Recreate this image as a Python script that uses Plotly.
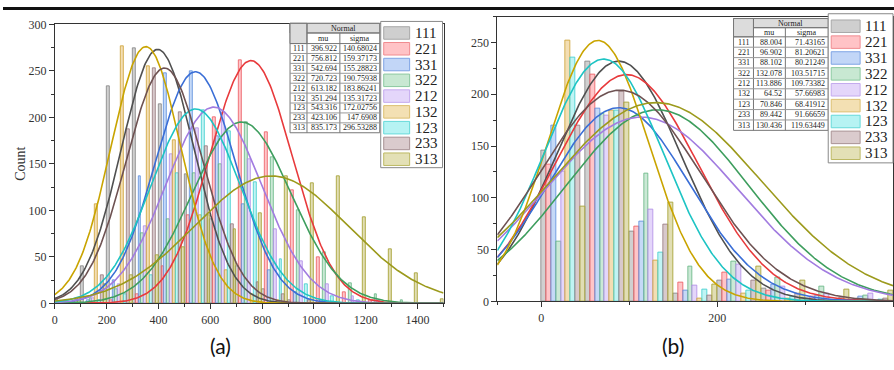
import numpy as np
import plotly.graph_objects as go

W, H = 894, 370

series = ["111", "221", "331", "322", "212", "132", "123", "233", "313"]

# ---------- panel (a) data ----------
mu_a_txt = ["396.922", "756.812", "542.694", "720.723", "613.182", "351.294", "543.316", "423.106", "835.173"]
sigma_a_txt = ["140.68024", "159.37173", "155.28823", "190.75938", "183.86241", "135.31723", "172.02756", "147.6908", "296.53288"]
peak_a = [273, 261, 249, 195, 211, 276, 209, 253, 137]
bins_a = [0, 100, 200, 300, 400, 500, 600, 700, 800, 900, 1000, 1100, 1200, 1300, 1400]
counts_a = {
    "111": [5, 40, 233, 274, 214, 139, 90, 40, 15, 3, 0, 0, 0, 0, 0],
    "221": [0, 0, 3, 10, 40, 95, 200, 261, 184, 122, 50, 12, 3, 0, 0],
    "331": [0, 3, 25, 137, 247, 250, 180, 107, 36, 12, 3, 0, 0, 0, 0],
    "322": [0, 5, 15, 75, 90, 140, 150, 195, 157, 100, 55, 22, 10, 3, 0],
    "212": [0, 5, 20, 83, 160, 188, 205, 155, 80, 45, 20, 8, 3, 0, 0],
    "132": [0, 107, 276, 255, 175, 95, 35, 10, 3, 0, 0, 0, 0, 0, 0],
    "123": [0, 3, 10, 30, 140, 208, 185, 130, 47, 20, 8, 3, 0, 0, 0],
    "233": [3, 30, 187, 253, 205, 169, 85, 23, 10, 3, 0, 0, 0, 0, 0],
    "313": [5, 20, 30, 52, 60, 95, 80, 97, 137, 129, 137, 92, 58, 32, 4],
}

# ---------- panel (b) data ----------
mu_b_txt = ["88.004", "96.902", "88.102", "132.078", "113.886", "64.52", "70.846", "89.442", "130.436"]
sigma_b_txt = ["71.43165", "81.20621", "80.21249", "103.51715", "109.73382", "57.66983", "68.41912", "91.66659", "119.63449"]
peak_b = [232, 219, 187, 185, 178, 252, 234, 204, 192]
bins_b = [0, 50, 100, 150, 200, 250, 300, 350]
counts_b = {
    "111": [146, 232, 67, 8, 20, 12, 3, 1],
    "221": [132, 219, 72, 18, 28, 10, 5, 2],
    "331": [170, 186, 77, 10, 21, 16, 6, 5],
    "322": [58, 181, 123, 34, 38, 23, 14, 6],
    "212": [125, 179, 89, 15, 36, 14, 8, 8],
    "132": [252, 184, 39, 3, 8, 3, 1, 0],
    "123": [235, 184, 47, 11, 10, 5, 2, 2],
    "233": [170, 203, 74, 6, 20, 8, 4, 3],
    "313": [92, 192, 95, 16, 34, 20, 11, 10],
}

# ---------- styles ----------
line_col = ["#505050", "#e83a3c", "#3a6ed6", "#3e9e5e", "#a27ce0", "#c9a400", "#1ec4c4", "#6e5252", "#9c9a1c"]
fill_col = ["rgba(170,170,170,0.55)", "rgba(255,150,155,0.55)", "rgba(150,185,240,0.55)",
            "rgba(160,215,180,0.55)", "rgba(205,180,245,0.55)", "rgba(235,200,130,0.6)",
            "rgba(140,235,235,0.55)", "rgba(190,165,170,0.6)", "rgba(205,200,130,0.6)"]
edge_col = ["rgba(130,130,130,0.8)", "rgba(235,90,95,0.8)", "rgba(90,140,220,0.8)",
            "rgba(100,180,130,0.8)", "rgba(175,140,230,0.8)", "rgba(210,170,70,0.9)",
            "rgba(60,205,205,0.8)", "rgba(150,120,125,0.8)", "rgba(170,165,60,0.9)"]
swatch_fill = ["#cfcfcf", "#ffc3c6", "#c2d6f7", "#c8e8d2", "#e4d6fa", "#f3e0b3", "#b6f3f3", "#dacbcd", "#e3e0b6"]
swatch_edge = ["#a8a8a8", "#f08c90", "#7fa4e4", "#8cc9a0", "#c4aaee", "#dcbf72", "#66d9d9", "#a89294", "#bdb964"]

fig = go.Figure()

def add_panel(bins, counts, mu_txt, sigma_txt, peaks, bw, xr, xa, ya):
    n = len(series)
    w = bw / n
    for i, s in enumerate(series):
        xs = [b + (i + 0.5) * w for b in bins]
        fig.add_trace(go.Bar(x=xs, y=counts[s], width=w, xaxis=xa, yaxis=ya,
                             marker=dict(color=fill_col[i], line=dict(color=edge_col[i], width=1)),
                             showlegend=False, hoverinfo="skip"))
    xx = np.linspace(xr[0], xr[1], 400)
    for i, s in enumerate(series):
        m = float(mu_txt[i]); sg = float(sigma_txt[i])
        yy = peaks[i] * np.exp(-0.5 * ((xx - m) / sg) ** 2)
        fig.add_trace(go.Scatter(x=xx, y=yy, mode="lines", xaxis=xa, yaxis=ya,
                                 line=dict(color=line_col[i], width=1.6),
                                 showlegend=False, hoverinfo="skip"))

add_panel(bins_a, counts_a, mu_a_txt, sigma_a_txt, peak_a, 100, (0, 1500), "x", "y")
add_panel(bins_b, counts_b, mu_b_txt, sigma_b_txt, peak_b, 50, (-50, 400), "x2", "y2")

def PX(x):
    return x / W

def PY(y):
    return 1 - y / H

shapes = []
annotations = []

def rect(x0, y0, x1, y1, fill="white", line="#888", lw=1):
    shapes.append(dict(type="rect", xref="paper", yref="paper",
                       x0=PX(x0), x1=PX(x1), y0=PY(y1), y1=PY(y0),
                       fillcolor=fill, line=dict(color=line, width=lw), layer="above"))

def seg(x0, y0, x1, y1, col="#999", lw=1):
    shapes.append(dict(type="line", xref="paper", yref="paper",
                       x0=PX(x0), x1=PX(x1), y0=PY(y0), y1=PY(y1),
                       line=dict(color=col, width=lw), layer="above"))

def text(x, y, t, size=7, anchor="center", font="Liberation Serif", color="#222"):
    annotations.append(dict(xref="paper", yref="paper", x=PX(x), y=PY(y), text=t,
                            showarrow=False, xanchor=anchor, yanchor="middle",
                            font=dict(family=font, size=size, color=color)))

def table(cx, top, hdr_h, sub_h, row_h, mu_txt, sigma_txt):
    c0, c1, c2, c3 = cx
    bottom = top + hdr_h + sub_h + row_h * len(series)
    rect(c0, top, c3, bottom, fill="white", line="#777")
    rect(c0, top, c3, top + hdr_h, fill="#dcdcdc", line="#777")
    rect(c0, top, c1, top + hdr_h + sub_h, fill="#dcdcdc", line="#777")
    seg(c1, top, c1, bottom, "#777")
    seg(c2, top + hdr_h, c2, bottom, "#777")
    seg(c1, top + hdr_h, c3, top + hdr_h, "#777")
    y = top + hdr_h + sub_h
    seg(c0, y, c3, y, "#777")
    for k in range(1, len(series)):
        seg(c0, y + k * row_h, c3, y + k * row_h, "#999")
    text((c1 + c3) / 2, top + hdr_h / 2, "Normal", 8)
    text((c1 + c2) / 2, top + hdr_h + sub_h / 2, "mu", 8)
    text((c2 + c3) / 2, top + hdr_h + sub_h / 2, "sigma", 8)
    for k, s in enumerate(series):
        yc = y + (k + 0.5) * row_h
        text((c0 + c1) / 2, yc, s, 8)
        text(c2 - 1, yc, mu_txt[k], 8, anchor="right")
        text(c3 - 1, yc, sigma_txt[k], 8, anchor="right")

def legend(x0, y0, x1, y1, sx0, sx1, yc0, dy, tx):
    rect(x0, y0, x1, y1, fill="white", line="#888")
    for k, s in enumerate(series):
        yc = yc0 + k * dy
        rect(sx0, yc - 6.5, sx1, yc + 6.5, fill=swatch_fill[k], line=swatch_edge[k])
        text(tx, yc, s, 15, anchor="left", color="#222")

table((288, 305, 338, 378), 17, 10, 11, 10.3, mu_a_txt, sigma_a_txt)
legend(379, 15, 441, 167, 382, 408, 27, 16.4, 411)
table((733, 753, 785, 828), 12, 9.5, 9.5, 10.8, mu_b_txt, sigma_b_txt)
legend(828, 7, 893, 162, 831, 860, 20, 16.5, 863)

# top dark strip
shapes.append(dict(type="rect", xref="paper", yref="paper", x0=0, x1=1, y0=PY(3), y1=1,
                   fillcolor="#111", line=dict(width=0), layer="above"))

text(218, 352, "(a)", 21, font="Lato", color="#111")
text(672, 352, "(b)", 21, font="Lato", color="#111")
annotations.append(dict(xref="paper", yref="paper", x=PX(18), y=PY(163), text="Count",
                        textangle=-90, showarrow=False, xanchor="center", yanchor="middle",
                        font=dict(family="Liberation Serif", size=14, color="#333")))

axis_common = dict(showline=True, linecolor="#333", linewidth=1, mirror=True,
                   ticks="outside", ticklen=5, tickcolor="#333", showgrid=False, zeroline=False,
                   tickfont=dict(family="Liberation Serif", size=12, color="#333"))

fig.update_layout(
    width=W, height=H, margin=dict(l=0, r=0, t=0, b=0),
    paper_bgcolor="white", plot_bgcolor="white", barmode="overlay", bargap=0,
    xaxis=dict(domain=[PX(52), PX(442)], range=[0, 1500], tickvals=[0, 200, 400, 600, 800, 1000, 1200, 1400],
               minor=dict(dtick=100, ticks="outside", ticklen=3, tickcolor="#333"), anchor="y", **axis_common),
    yaxis=dict(domain=[PY(308), PY(18)], range=[0, 300], dtick=50,
               minor=dict(dtick=25, ticks="outside", ticklen=3, tickcolor="#333"), anchor="x", **axis_common),
    xaxis2=dict(domain=[PX(496), PX(893)], range=[-50, 400], tickvals=[0, 200, 400],
                minor=dict(tickvals=[-50, 100, 300], ticks="outside", ticklen=3, tickcolor="#333"), anchor="y2", **axis_common),
    yaxis2=dict(domain=[PY(306), PY(10)], range=[0, 275], dtick=50,
                minor=dict(dtick=25, ticks="outside", ticklen=3, tickcolor="#333"), anchor="x2", **axis_common),
    shapes=shapes, annotations=annotations,
)

fig.write_html("out.html", config={"displayModeBar": False},
               post_script="document.body.style.margin='0';document.body.style.overflow='hidden';")
